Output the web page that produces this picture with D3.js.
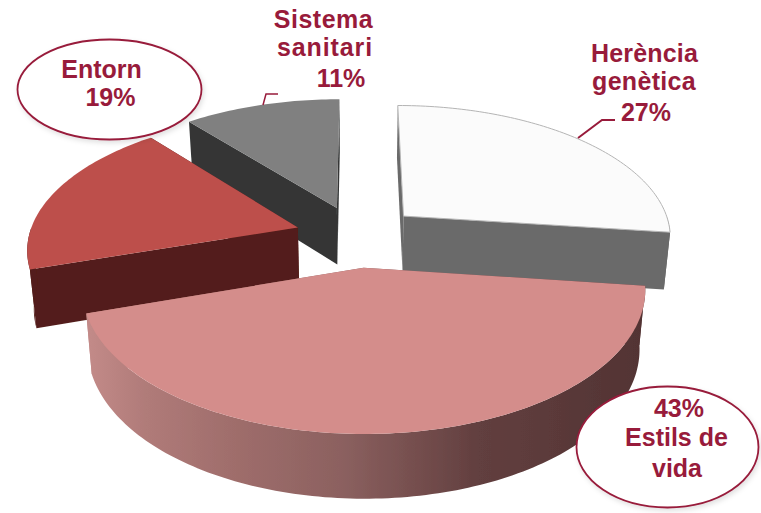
<!DOCTYPE html>
<html>
<head>
<meta charset="utf-8">
<script src="https://d3js.org/d3.v7.min.js"></script>
<style>
    html, body { margin: 0; padding: 0; background: #fff; }
    svg { display: block; }
    text { font-family: "Liberation Sans", Arial, sans-serif; font-weight: bold; font-size: 25px; fill: #981b3b; }
</style>
</head>
<body>
<div class="vis"></div>

<script>
    var categories = ["Herència genètica", "Estils de vida", "Entorn", "Sistema sanitari"];
    var values = [27, 43, 19, 11];
    var topColors = ["#fbfbfb", "#d48d8b", "#bd4f4c", "#808080"];
    var sideColors = ["#6a6a6a", "#8a6160", "#531e1a", "#343636"];

    var width = 761, height = 513;

    // fake 3d: plane coords are in pie radii, X right, Z going back
    var cx = 357.5, cy = 236, rx = 269, ry = 132;
    var persp = 0.145, depth = 57.5, explode = 0.233;

    function project(X, Z, low) {
        var s = 1 / (1 + persp * Z);
        var sx = low ? s * 0.98 : s;
        var y = cy - ry * Z * s;
        if (low) y += depth * Math.pow(s, 0.6);
        return [cx + rx * X * sx, y];
    }

    var svg = d3.select(".vis")
        .append("svg")
        .attr("width", width)
        .attr("height", height)
        .attr("viewBox", [0, 0, width, height]);

    var defs = svg.append("defs");

    var wallGrad = defs.append("linearGradient")
        .attr("id", "wall")
        .attr("gradientUnits", "userSpaceOnUse")
        .attr("x1", 90).attr("x2", 645).attr("y1", 0).attr("y2", 0);
    wallGrad.selectAll("stop")
        .data([[0, "#c28a88"], [0.1, "#b07b79"], [0.25, "#a06e6c"], [0.45, "#8c6160"], [0.7, "#623f3f"], [1, "#523333"]])
        .join("stop")
        .attr("offset", d => d[0])
        .attr("stop-color", d => d[1]);

    defs.append("filter").attr("id", "soft")
        .append("feGaussianBlur").attr("stdDeviation", 0.6);

    var shadow = defs.append("filter").attr("id", "shadow")
        .attr("x", "-10%").attr("y", "-10%").attr("width", "125%").attr("height", "125%");
    shadow.append("feDropShadow")
        .attr("dx", 1.5).attr("dy", 2.5).attr("stdDeviation", 2.5)
        .attr("flood-color", "#000").attr("flood-opacity", 0.12);

    var line = d3.line();

    var slices = d3.pie().sort(null).startAngle(0).endAngle(2 * Math.PI)(values)
        .map(function (d) {
            var mid = (d.startAngle + d.endAngle) / 2;
            d.ox = Math.sin(mid) * explode;
            d.oz = Math.cos(mid) * explode;
            return d;
        });

    function pt(d, a, low) {
        return project(d.ox + Math.sin(a), d.oz + Math.cos(a), low);
    }
    function arcAngles(a0, a1) {
        var n = Math.max(2, Math.ceil((a1 - a0) / 0.02));
        return d3.range(n + 1).map(i => a0 + (a1 - a0) * i / n);
    }

    var pie = svg.append("g").attr("filter", "url(#soft)");

    // back slices first, the big front slice goes last
    [3, 0, 2, 1].forEach(function (i) {
        var d = slices[i];
        var g = pie.append("g").attr("class", "slice");
        var side = i == 1 ? "url(#wall)" : sideColors[i];
        var apexTop = project(d.ox, d.oz, false), apexLow = project(d.ox, d.oz, true);

        // the two cut faces
        [d.endAngle, d.startAngle].forEach(function (a) {
            g.append("path")
                .attr("d", line([apexTop, pt(d, a, false), pt(d, a, true), apexLow]) + "Z")
                .attr("fill", side);
        });

        // outer wall, only the part facing us
        var w0 = Math.max(d.startAngle, Math.PI / 2), w1 = Math.min(d.endAngle, Math.PI * 1.5);
        if (w1 > w0) {
            var as = arcAngles(w0, w1);
            var wall = as.map(a => pt(d, a, false)).concat(as.slice().reverse().map(a => pt(d, a, true)));
            g.append("path").attr("d", line(wall) + "Z").attr("fill", side);
        }

        var rim = arcAngles(d.startAngle, d.endAngle).map(a => pt(d, a, false));
        g.append("path")
            .attr("d", line([apexTop].concat(rim)) + "Z")
            .attr("fill", topColors[i])
            .attr("stroke", i == 0 ? "#b4b4b4" : "none")
            .attr("stroke-width", i == 0 ? 1 : 0);
    });

    // leader lines
    svg.append("path").attr("d", "M578,138L602,120L615,120")
        .attr("fill", "none").attr("stroke", "#981b3b").attr("stroke-width", 2);
    svg.append("path").attr("d", "M263,105L266,94L278,94")
        .attr("fill", "none").attr("stroke", "#981b3b").attr("stroke-width", 1.5);

    // callout ellipses
    svg.append("ellipse")
        .attr("cx", 109.5).attr("cy", 89.5).attr("rx", 92).attr("ry", 50)
        .attr("fill", "#fff").attr("stroke", "#981b3b").attr("stroke-width", 1.8)
        .attr("filter", "url(#shadow)");
    svg.append("ellipse")
        .attr("cx", 667.5).attr("cy", 447).attr("rx", 91).attr("ry", 60.5)
        .attr("fill", "#fff").attr("stroke", "#981b3b").attr("stroke-width", 1.8)
        .attr("filter", "url(#shadow)");

    function label(str, x, y, spacing) {
        svg.append("text")
            .attr("x", x).attr("y", y)
            .attr("text-anchor", "middle")
            .attr("letter-spacing", spacing || 0)
            .text(str);
    }

    var pct = values.map(v => v + "%");

    label("Sistema", 323.5, 28, 0.5);
    label("sanitari", 325, 56, 0.9);
    label(pct[3], 341, 87);

    label("Entorn", 101.5, 78);
    label(pct[2], 110.5, 106);

    label("Herència", 644.5, 62, 0.2);
    label("genètica", 644, 90, 0.3);
    label(pct[0], 646, 121);

    label(pct[1], 679, 417);
    label("Estils de", 676.5, 446);
    label("vida", 677, 477);
</script>
</body>
</html>
